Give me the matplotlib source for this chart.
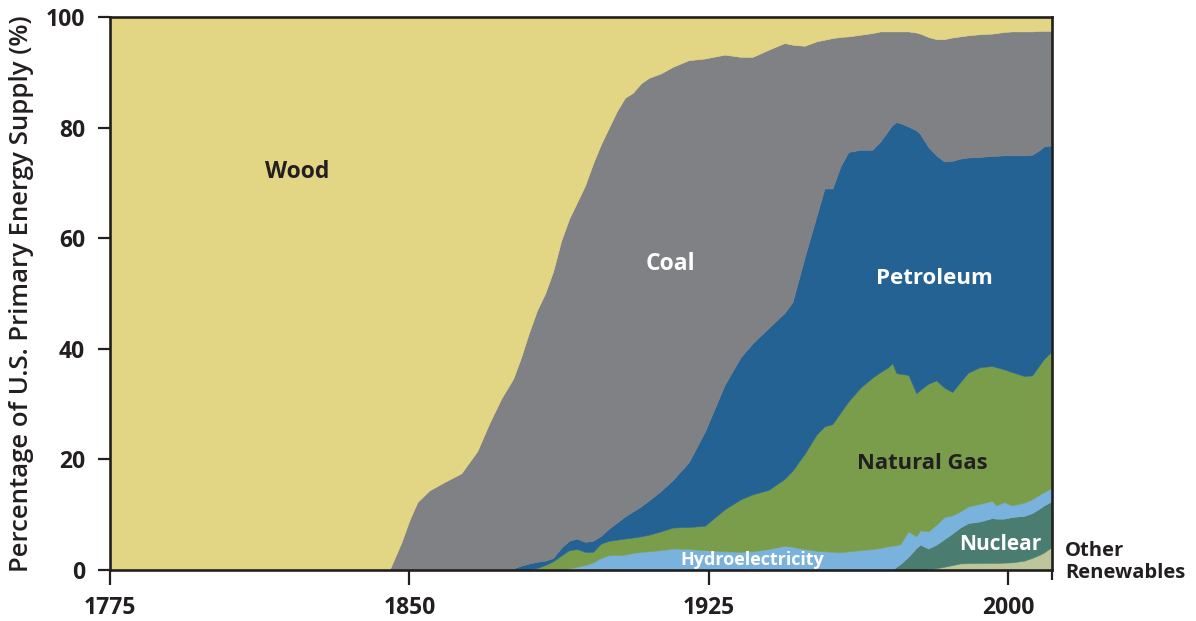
import numpy as np
import matplotlib
matplotlib.use("Agg")
import matplotlib.pyplot as plt

plt.rcParams['font.family'] = ['Open Sans', 'DejaVu Sans']

# Share of U.S. primary energy supply (%)
years = [1775, 1845, 1848, 1850, 1852, 1855, 1859, 1863, 1865, 1867,
         1870, 1873, 1876, 1878, 1880, 1882, 1884, 1886, 1888, 1890,
         1892, 1894, 1896, 1898, 1900, 1902, 1904, 1906, 1908, 1910,
         1913, 1916, 1920, 1924, 1929, 1933, 1936, 1940, 1944, 1946,
         1949, 1952, 1954, 1956, 1958, 1960, 1963, 1966, 1968, 1970,
         1971, 1972, 1973, 1975, 1977, 1978, 1980, 1982, 1984, 1986,
         1988, 1990, 1993, 1996, 1997, 1999, 2001, 2004, 2006, 2008,
         2009, 2011]

other_renewables = [0]*56 + [0.15, 0.35, 0.6, 0.9,
                             1.2, 1.25, 1.3, 1.3, 1.3, 1.35, 1.4, 1.7, 2.2, 2.8,
                             3.2, 4.2]

nuclear = [0]*51 + [0.6, 1.1, 2.4, 4.0, 4.6, 3.75, 4.25, 5.0, 5.7,
                    6.5, 7.25, 7.5, 8.1, 8.0, 7.95, 8.2, 8.1, 8.1, 8.4,
                    8.5, 8.3]

hydro = [0]*19 + [0.3,
                  0.6, 0.9, 1.4, 2.2, 2.7, 2.7, 2.8, 3.1, 3.3, 3.4,
                  3.6, 3.9, 3.8, 3.6, 3.4, 3.3, 3.4, 3.8, 4.4, 4.2,
                  3.8, 3.5, 3.4, 3.3, 3.2, 3.4, 3.6, 3.8, 4.0, 4.3,
                  4.4, 3.9, 3.6, 4.6, 2.1, 2.6, 3.1, 3.6, 4.0, 3.3,
                  2.9, 3.0, 3.2, 3.1, 2.4, 3.0, 2.1, 2.4, 2.5, 2.5,
                  2.4, 2.4]

natural_gas = [0]*15 + [0.4, 0.9, 1.6, 2.6, 3.3,
                        3.2, 2.4, 1.9, 2.6, 2.6, 2.8, 2.9, 2.8, 2.8, 3.0,
                        3.4, 3.8, 4.0, 4.4, 7.6, 9.5, 10.3, 10.7, 12.1, 13.8,
                        17.2, 21.0, 22.6, 23.1, 25.3, 27.1, 29.4, 31.0, 31.8, 32.4,
                        33.0, 31.1, 30.8, 28.3, 25.9, 25.4, 26.7, 26.1, 23.4, 22.3,
                        23.4, 24.2, 24.7, 24.4, 25.0, 24.0, 24.1, 22.9, 22.4, 23.5,
                        24.1, 24.7]

petroleum = [0]*12 + [0.3, 0.8, 1.2, 1.1, 0.8, 0.6, 1.4, 1.7,
                      1.9, 1.8, 2.0, 1.4, 2.2, 3.1, 4.0, 4.7, 5.4, 6.2,
                      7.3, 8.6, 11.7, 17.0, 22.5, 25.7, 27.3, 29.3, 30.0, 30.5,
                      35.5, 39.5, 43.0, 42.6, 44.5, 45.1, 43.0, 41.2, 41.7, 42.8,
                      43.1, 45.4, 45.3, 44.9, 47.5, 46.2, 42.8, 40.7, 40.9, 41.8,
                      40.4, 38.9, 38.0, 38.0, 38.2, 38.7, 39.2, 39.9, 39.9, 38.8,
                      38.4, 37.2]

coal = [0, 0, 5, 9, 12.3, 14.4, 16, 17.5, 19.5, 21.5,
        26.5, 31, 34.3, 37.7, 41.8, 45.5, 48.3, 51.8, 55.5, 58.2,
        60.8, 64.4, 68.2, 70.8, 72.5, 74.4, 75.7, 75.7, 76.5, 76.4,
        75.5, 74.7, 72.7, 67.5, 59.7, 54.3, 51.8, 50.3, 48.8, 46.5,
        38.3, 31.6, 26.9, 27.2, 23.4, 20.9, 20.8, 21.1, 19.9, 17.9,
        16.9, 16.4, 16.6, 17.2, 17.7, 18.2, 19.9, 21.0, 22.1, 22.3,
        22.1, 22.1, 22.2, 22.1, 22.2, 22.3, 22.4, 22.4, 22.3, 21.5,
        20.9, 20.7]

wood = [100, 100, 95, 91, 87.7, 85.6, 84, 82.5, 80.5, 78.5,
        73.5, 69, 65.4, 61.5, 57, 53, 50, 46, 40.5, 36.5,
        33.5, 30.5, 26.5, 23, 20, 17, 14.6, 13.7, 12, 11,
        10.2, 9, 7.8, 7.5, 6.8, 7.2, 7.2, 5.9, 4.7, 5.0,
        5.2, 4.4, 4.1, 3.8, 3.6, 3.5, 3.2, 2.9, 2.6, 2.6,
        2.6, 2.6, 2.6, 2.6, 2.8, 3.0, 3.6, 4.0, 4.0, 3.7,
        3.5, 3.3, 3.1, 3.0, 2.9, 2.7, 2.6, 2.6, 2.6, 2.5,
        2.5, 2.5]

x_ticks = [1775, 1850, 1925, 2000]
y_ticks = [0, 20, 40, 60, 80, 100]

colors = ['#bdc69a', '#4a7d70', '#7ab2de', '#799d4b', '#256294', '#808185', '#e2d584']
dark = '#231f20'

fig = plt.figure(figsize=(11.96, 6.21), dpi=100)
ax = fig.add_axes([0.092, 0.082, 0.7876, 0.8906])

layers = [other_renewables, nuclear, hydro, natural_gas, petroleum, coal, wood]
polys = ax.stackplot(years, layers, colors=colors, linewidth=0.4)
for p, c in zip(polys, colors):
    p.set_edgecolor(c)

ax.set_xlim(1775, 2011)
ax.set_ylim(0, 100)
ax.set_xticks(x_ticks)
ax.set_yticks(y_ticks)
ax.set_xticks([2011], minor=True)

for s in ax.spines.values():
    s.set_linewidth(1.9)
    s.set_color(dark)
    s.set_zorder(5)

ax.tick_params(axis='x', which='major', direction='out', length=11, width=1.6,
               color=dark, labelsize=16.5, pad=8)
ax.tick_params(axis='x', which='minor', direction='out', length=7, width=1.6, color=dark)
ax.tick_params(axis='y', direction='out', length=9, width=1.6, color=dark,
               labelsize=16.5, pad=9)
for lab in ax.get_xticklabels() + ax.get_yticklabels():
    lab.set_fontweight('bold')
    lab.set_color(dark)

ax.set_ylabel('Percentage of U.S. Primary Energy Supply (%)', fontsize=18.5,
              fontweight='semibold', color=dark)
ax.yaxis.set_label_coords(-0.081, 0.5)

# Labels on the areas
ax.text(1822, 72, 'Wood', fontsize=16.5, fontweight='bold', color=dark, ha='center', va='center')
ax.text(1915.5, 55.3, 'Coal', fontsize=16.5, fontweight='bold', color='white', ha='center', va='center')
ax.text(1981.5, 52.8, 'Petroleum', fontsize=16, fontweight='bold', color='white', ha='center', va='center')
ax.text(1978.5, 19.3, 'Natural Gas', fontsize=15.8, fontweight='bold', color=dark, ha='center', va='center')
ax.text(1935.8, 1.8, 'Hydroelectricity', fontsize=13, fontweight='bold', color='white', ha='center', va='center')
ax.text(1998, 4.7, 'Nuclear', fontsize=15, fontweight='bold', color='white', ha='center', va='center')
ax.text(2014.2, 1.4, 'Other\nRenewables', fontsize=14.5, fontweight='bold', color=dark,
        ha='left', va='center', linespacing=1.15, clip_on=False)

fig.savefig('out.png', dpi=100)
